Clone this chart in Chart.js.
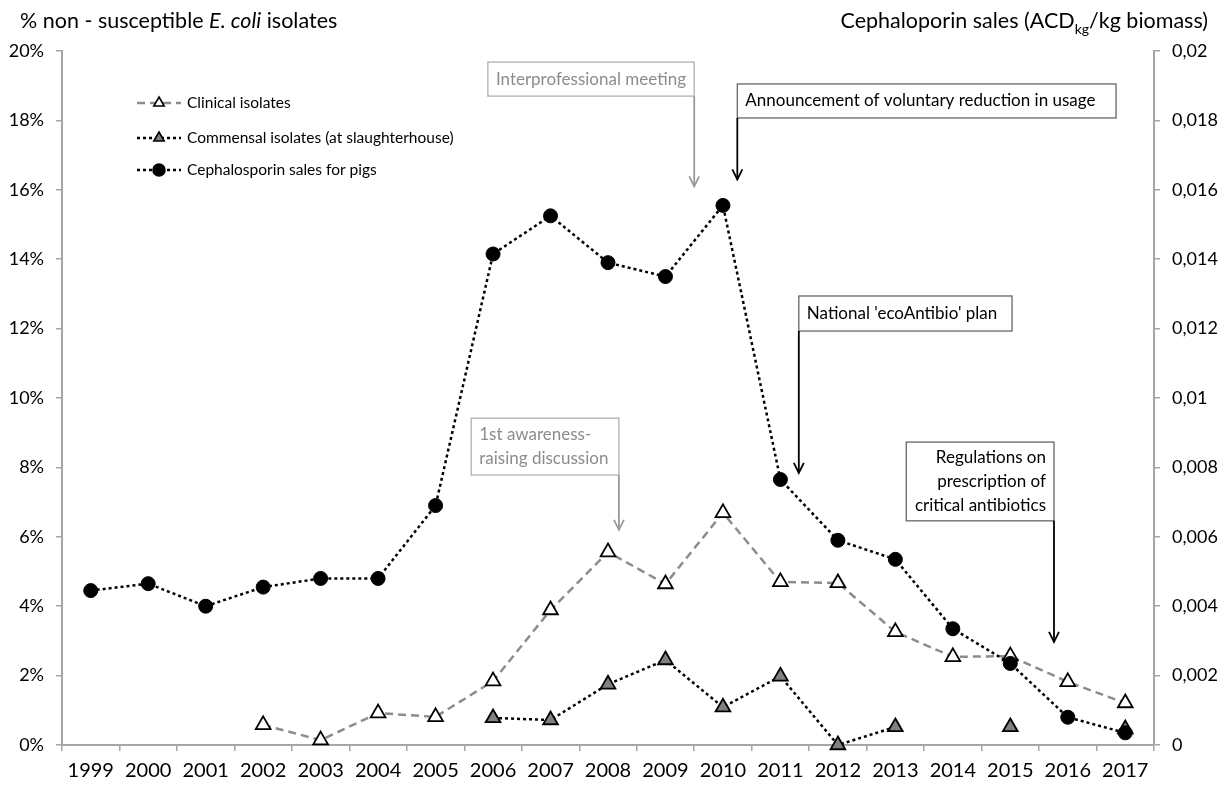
<!DOCTYPE html>
<html>
<head>
<meta charset="utf-8">
<script src="https://cdn.jsdelivr.net/npm/chart.js@4.4.1/dist/chart.umd.min.js"></script>
<style>
  html, body { margin: 0; padding: 0; background: #fff; }
</style>
</head>
<body>
<canvas id="chart" width="1225" height="786"></canvas>
<script>
const years = ["1999","2000","2001","2002","2003","2004","2005","2006","2007","2008",
               "2009","2010","2011","2012","2013","2014","2015","2016","2017"];

// % non-susceptible E. coli isolates (left axis)
const clinical = [null, null, null, 0.58, 0.14, 0.92, 0.81, 1.84, 3.89, 5.56,
                  4.64, 6.69, 4.70, 4.67, 3.26, 2.54, 2.56, 1.82, 1.21];
const commensal = [null, null, null, null, null, null, null, 0.78, 0.72, 1.75,
                   2.45, 1.09, 1.98, 0, 0.52, null, 0.52, null, 0.46];

// cephalosporin sales, ACDkg / kg biomass (right axis)
const cephSales = [0.00445, 0.00465, 0.0040, 0.00455, 0.0048, 0.0048, 0.0069, 0.01415, 0.01525, 0.0139,
                   0.0135, 0.01555, 0.00765, 0.0059, 0.00535, 0.00335, 0.00235, 0.0008, 0.00035];

const leftTicks = ["0%","2%","4%","6%","8%","10%","12%","14%","16%","18%","20%"];
const rightTicks = ["0","0,002","0,004","0,006","0,008","0,01","0,012","0,014","0,016","0,018","0,02"];

const seriesNames = ["Clinical isolates", "Commensal isolates (at slaughterhouse)", "Cephalosporin sales for pigs"];

// event call-outs: box in (category index, % on left axis), arrow along one box edge
const callouts = [
  { lines: ["Interprofessional meeting"], color: "#8c8c8c", border: "#b0b0b0", arrow: "#999",
    x0: 6.91, x1: 10.5, yTop: 19.68, yBot: 18.7, edge: "right", tip: 16.1, align: "left" },
  { lines: ["Announcement of voluntary reduction in usage"], color: "#000", border: "#666", arrow: "#000",
    x0: 11.25, x1: 17.84, yTop: 19.05, yBot: 18.07, edge: "left", tip: 16.3, align: "left" },
  { lines: ["National 'ecoAntibio' plan"], color: "#000", border: "#666", arrow: "#000",
    x0: 12.32, x1: 16.03, yTop: 12.94, yBot: 11.93, edge: "left", tip: 7.84, align: "left" },
  { lines: ["1st awareness-", "raising discussion"], color: "#8c8c8c", border: "#b0b0b0", arrow: "#999",
    x0: 6.62, x1: 9.19, yTop: 9.42, yBot: 7.78, edge: "right", tip: 6.2, align: "left" },
  { lines: ["Regulations on", "prescription of", "critical antibiotics"], color: "#000", border: "#666", arrow: "#000",
    x0: 14.19, x1: 16.76, yTop: 8.73, yBot: 6.46, edge: "right", tip: 2.97, align: "right" }
];

const FONT = "Lato, 'Open Sans', sans-serif";

function catX(xs, v) {
  // fractional category index -> pixel
  const w = (xs.right - xs.left) / years.length;
  return xs.left + w * (v + 0.5);
}

const extras = {
  id: "extras",
  afterDatasetsDraw(chart) {
    const { ctx, chartArea, scales } = chart;
    const xs = scales.x, ys = scales.y;
    ctx.save();

    // axis titles
    ctx.textBaseline = "middle";
    ctx.fillStyle = "#000";
    let x = 20;
    const ty = 21;
    const parts = [["% non - susceptible ", ""], ["E. coli", "italic "], [" isolates", ""]];
    for (const [t, st] of parts) {
      ctx.font = st + "21.5px " + FONT;
      ctx.textAlign = "left";
      ctx.fillText(t, x, ty);
      x += ctx.measureText(t).width;
    }
    ctx.font = "21.5px " + FONT;
    const a = "Cephaloporin sales (ACD", b = "/kg biomass)";
    const wa = ctx.measureText(a).width, wb = ctx.measureText(b).width;
    ctx.font = "14px " + FONT;
    const wk = ctx.measureText("kg").width;
    let rx = 1208 - (wa + wk + wb);
    ctx.font = "21.5px " + FONT;
    ctx.fillText(a, rx, ty);
    ctx.font = "14px " + FONT;
    ctx.fillText("kg", rx + wa, ty + 8);
    ctx.font = "21.5px " + FONT;
    ctx.fillText(b, rx + wa + wk, ty);

    // legend
    const order = [1, 2, 0];
    const lx = chartArea.left + 75;
    const rowsY = [chartArea.top + 52, chartArea.top + 87, chartArea.top + 119];
    order.forEach((di, r) => {
      const ds = chart.data.datasets[di];
      const y = rowsY[r];
      ctx.save();
      ctx.strokeStyle = ds.borderColor;
      ctx.lineWidth = 2.5;
      ctx.setLineDash(ds.borderDash);
      ctx.beginPath();
      ctx.moveTo(lx, y);
      ctx.lineTo(lx + 44, y);
      ctx.stroke();
      ctx.restore();
      ctx.save();
      ctx.fillStyle = ds.pointBackgroundColor;
      ctx.strokeStyle = ds.pointBorderColor;
      ctx.lineWidth = 1.6;
      Chart.helpers.drawPoint(ctx, { pointStyle: ds.pointStyle, radius: 6, rotation: 0, borderWidth: 1.6 }, lx + 22, y);
      ctx.restore();
      ctx.fillStyle = "#000";
      ctx.font = "15.5px " + FONT;
      ctx.textAlign = "left";
      ctx.textBaseline = "middle";
      ctx.fillText(ds.label, lx + 50, y);
    });

    // call-outs
    for (const c of callouts) {
      const bx0 = catX(xs, c.x0), bx1 = catX(xs, c.x1);
      const by0 = ys.getPixelForValue(c.yTop), by1 = ys.getPixelForValue(c.yBot);
      const ax = c.edge === "right" ? bx1 : bx0;
      const tipY = ys.getPixelForValue(c.tip);
      ctx.fillStyle = "#fff";
      ctx.fillRect(bx0, by0, bx1 - bx0, by1 - by0);
      ctx.strokeStyle = c.border;
      ctx.lineWidth = 1.3;
      ctx.setLineDash([]);
      ctx.strokeRect(bx0, by0, bx1 - bx0, by1 - by0);
      // arrow
      ctx.strokeStyle = c.arrow;
      ctx.lineWidth = 1.8;
      ctx.beginPath();
      ctx.moveTo(ax, by1);
      ctx.lineTo(ax, tipY);
      ctx.stroke();
      ctx.beginPath();
      ctx.moveTo(ax - 5, tipY - 10);
      ctx.lineTo(ax, tipY);
      ctx.lineTo(ax + 5, tipY - 10);
      ctx.stroke();
      // text
      ctx.fillStyle = c.color;
      ctx.font = "17px " + FONT;
      ctx.textBaseline = "middle";
      const lh = 24;
      const midY = (by0 + by1) / 2;
      c.lines.forEach((t, i) => {
        const yy = midY + (i - (c.lines.length - 1) / 2) * lh;
        if (c.align === "right") {
          ctx.textAlign = "right";
          ctx.fillText(t, bx1 - 8, yy);
        } else {
          ctx.textAlign = "left";
          ctx.fillText(t, bx0 + 8, yy);
        }
      });
    }
    ctx.restore();
  }
};

const axisGrid = { drawOnChartArea: false, tickLength: 6, color: "#a6a6a6", lineWidth: 1.5 };
const axisBorder = { color: "#a6a6a6", width: 2 };

new Chart(document.getElementById("chart"), {
  type: "line",
  data: {
    labels: years,
    datasets: [
      {
        label: seriesNames[2], data: cephSales, yAxisID: "y1", order: 0, clip: false,
        borderColor: "#000", borderWidth: 2.5, borderDash: [3, 3],
        pointStyle: "circle", pointRadius: 7, pointBackgroundColor: "#000", pointBorderColor: "#000",
        pointBorderWidth: 1, tension: 0
      },
      {
        label: seriesNames[0], data: clinical, yAxisID: "y", order: 2, clip: false,
        borderColor: "#8c8c8c", borderWidth: 2.5, borderDash: [8, 5],
        pointStyle: "triangle", pointRadius: 8.5, pointBackgroundColor: "#fff", pointBorderColor: "#000",
        pointBorderWidth: 1.8, tension: 0, spanGaps: false
      },
      {
        label: seriesNames[1], data: commensal, yAxisID: "y", order: 1, clip: false,
        borderColor: "#000", borderWidth: 2.5, borderDash: [3, 3],
        pointStyle: "triangle", pointRadius: 8.5, pointBackgroundColor: "#808080", pointBorderColor: "#000",
        pointBorderWidth: 1.8, tension: 0, spanGaps: false
      }
    ]
  },
  options: {
    responsive: false,
    devicePixelRatio: 1,
    animation: false,
    layout: { padding: { top: 51, left: 0, right: 0, bottom: 0 } },
    plugins: { legend: { display: false }, tooltip: { enabled: false } },
    scales: {
      x: {
        offset: true,
        grid: { ...axisGrid, offset: true },
        border: axisBorder,
        ticks: { color: "#000", font: { family: FONT, size: 20 }, padding: 8, autoSkip: false, maxRotation: 0 },
        afterFit: s => { s.height = 41; }
      },
      y: {
        position: "left", min: 0, max: 20,
        grid: axisGrid, border: axisBorder,
        ticks: { stepSize: 2, color: "#000", font: { family: FONT, size: 18 }, padding: 12,
                 callback: (v, i) => leftTicks[i] },
        afterFit: s => { s.width = 62; }
      },
      y1: {
        position: "right", min: 0, max: 0.02,
        grid: axisGrid, border: axisBorder,
        ticks: { stepSize: 0.002, color: "#000", font: { family: FONT, size: 18 }, padding: 12,
                 callback: (v, i) => rightTicks[i] },
        afterFit: s => { s.width = 71; }
      }
    }
  },
  plugins: [extras]
});
</script>
</body>
</html>
